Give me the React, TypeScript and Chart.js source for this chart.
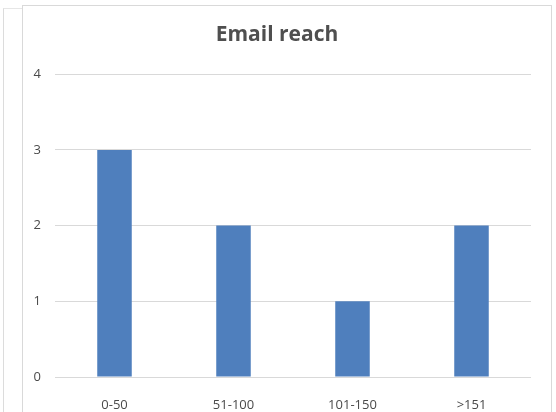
import React, { useEffect, useRef } from "react";
import { Chart, registerables } from "chart.js";

Chart.register(...registerables);

const categories = ["0-50", "51-100", "101-150", ">151"];
const reachValues = [3, 2, 1, 2];
const titleText = "Email reach";

const FONT = "'Open Sans', Lato, sans-serif";

export default function App() {
  const ref = useRef<HTMLCanvasElement | null>(null);

  useEffect(() => {
    document.body.style.margin = "0";
    const ctx = ref.current;
    if (!ctx) return;
    const chart = new Chart(ctx, {
      type: "bar",
      data: {
        labels: categories,
        datasets: [
          {
            label: "Email reach",
            data: reachValues,
            backgroundColor: "#4f7fbd",
            categoryPercentage: 1,
            barPercentage: 0.29,
          },
        ],
      },
      options: {
        animation: false,
        responsive: false,
        maintainAspectRatio: false,
        layout: { padding: { left: 0, right: 20, top: 0, bottom: 0 } },
        plugins: {
          legend: { display: false },
          tooltip: { enabled: false },
          title: {
            display: true,
            text: titleText,
            color: "#4f4f4f",
            font: { family: FONT, size: 21, weight: "bold" },
            padding: { top: 16, bottom: 27 },
          },
        },
        scales: {
          x: {
            grid: { display: false },
            border: { display: false },
            ticks: {
              color: "#4a4a4a",
              font: { family: FONT, size: 13 },
              padding: 12,
            },
            afterFit: (s: any) => {
              s.height = 39;
            },
          },
          y: {
            min: 0,
            max: 4,
            ticks: {
              stepSize: 1,
              color: "#4a4a4a",
              font: { family: FONT, size: 13 },
              padding: 14,
            },
            grid: { color: "#d9d9d9", lineWidth: 1, drawTicks: false },
            border: { display: false },
            afterFit: (s: any) => {
              s.width = 32;
            },
          },
        },
      },
    });
    return () => chart.destroy();
  }, []);

  return (
    <div style={{ position: "fixed", left: 0, top: 0, width: 556, height: 412, overflow: "hidden", background: "#fff" }}>
      <div
        style={{
          position: "absolute",
          left: 3,
          top: 8,
          width: 30,
          height: 420,
          borderLeft: "1px solid #dcdcdc",
          borderTop: "1px solid #e6e6e6",
        }}
      />
      <div
        style={{
          position: "absolute",
          left: 22,
          top: 5,
          width: 528,
          height: 420,
          border: "1px solid #d9d9d9",
          background: "#fff",
        }}
      >
        <canvas ref={ref} width={528} height={410} style={{ display: "block" }} />
      </div>
    </div>
  );
}
